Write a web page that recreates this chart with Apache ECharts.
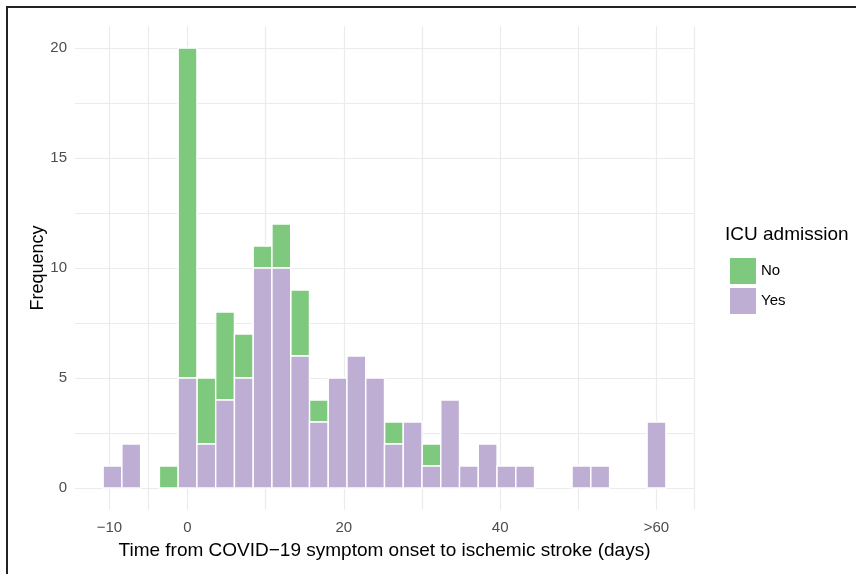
<!DOCTYPE html>
<html>
<head>
<meta charset="utf-8">
<script src="https://cdn.jsdelivr.net/npm/echarts@6/dist/echarts.min.js"></script>
<style>
  html, body { margin: 0; padding: 0; background: #fff; }
  #chart { position: absolute; left: 0; top: 0; width: 856px; height: 574px; }
  #frame { position: absolute; left: 6px; top: 6px; width: 852px; height: 570px;
           border-left: 2px solid #222; border-top: 2px solid #222; pointer-events: none; }
</style>
</head>
<body>
<div id="chart"></div>
<div id="frame"></div>
<script>
// Histogram bins (width 2.4 days), centres of each bin
const binCenters = [-9.6, -7.2, -4.8, -2.4, 0, 2.4, 4.8, 7.2, 9.6, 12.0, 14.4, 16.8, 19.2, 21.6, 24.0,
                    26.4, 28.8, 31.2, 33.6, 36.0, 38.4, 40.8, 43.2, 45.6, 48.0, 50.4, 52.8, 55.2, 57.6, 60.0];
const binWidth = 2.4;
// ICU admission = Yes counts
const yesCounts = [1, 2, 0, 0, 5, 2, 4, 5, 10, 10, 6, 3, 5, 6, 5,
                   2, 3, 1, 4, 1, 2, 1, 1, 0, 0, 1, 1, 0, 0, 3];
// ICU admission = No counts
const noCounts  = [0, 0, 0, 1, 15, 3, 4, 2, 1, 2, 3, 1, 0, 0, 0,
                   1, 0, 1, 0, 0, 0, 0, 0, 0, 0, 0, 0, 0, 0, 0];
const xTickLabels = [-10, 0, 20, 40, 60];
const xGridValues = [-10, -5, 0, 10, 20, 30, 40, 50, 60, 64.8];
const yTickLabels = [0, 5, 10, 15, 20];
const yGridValues = [0, 2.5, 5, 7.5, 10, 12.5, 15, 17.5, 20];
const seriesNames = ['No', 'Yes'];
const colors = { No: '#7FC97F', Yes: '#BEAED4' };

const yesData = [], noData = [];
binCenters.forEach((c, i) => {
  yesData.push([c, 0, yesCounts[i]]);
  noData.push([c, yesCounts[i], yesCounts[i] + noCounts[i]]);
});

function renderBar(params, api) {
  const c = api.value(0), lo = api.value(1), hi = api.value(2);
  if (!(hi > lo)) return null;
  const p0 = api.coord([c - binWidth / 2, hi]);
  const p1 = api.coord([c + binWidth / 2, lo]);
  return {
    type: 'rect',
    shape: { x: p0[0], y: p0[1], width: p1[0] - p0[0], height: p1[1] - p0[1] },
    style: { fill: api.visual('color'), stroke: '#ffffff', lineWidth: 1.4 }
  };
}

const font = '"Liberation Sans", Arial, Helvetica, sans-serif';
const chart = echarts.init(document.getElementById('chart'), null, { renderer: 'canvas' });
chart.setOption({
  animation: false,
  backgroundColor: '#ffffff',
  textStyle: { fontFamily: font },
  title: {
    text: 'ICU admission', left: 720, top: 220,
    textStyle: { fontFamily: font, fontSize: 19, fontWeight: 'normal', color: '#000' }
  },
  legend: {
    data: seriesNames, orient: 'vertical', left: 725, top: 253,
    icon: 'rect', itemWidth: 26, itemHeight: 26, itemGap: 4,
    textStyle: { fontFamily: font, fontSize: 15, color: '#000', padding: [0, 0, 0, 0] }
  },
  grid: { left: 75, right: 162, top: 26, bottom: 64, containLabel: false },
  xAxis: {
    type: 'value', min: -14.4, max: 64.8,
    name: 'Time from COVID\u221219 symptom onset to ischemic stroke (days)',
    nameLocation: 'middle', nameGap: 31, nameMoveOverlap: false,
    nameTextStyle: { fontFamily: font, fontSize: 19, color: '#000' },
    axisLine: { show: false },
    axisTick: { show: false, customValues: xGridValues },
    axisLabel: {
      customValues: xTickLabels, margin: 10, fontSize: 15, color: '#4d4d4d', fontFamily: font,
      formatter: v => v === 60 ? '>60' : (v < 0 ? '\u2212' + Math.abs(v) : String(v))
    },
    splitLine: { show: true, lineStyle: { color: '#ebebeb', width: 1.2 } }
  },
  yAxis: {
    type: 'value', min: -1, max: 21,
    name: 'Frequency', nameLocation: 'middle', nameGap: 28, nameRotate: 90, nameMoveOverlap: false,
    nameTextStyle: { fontFamily: font, fontSize: 18, color: '#000' },
    axisLine: { show: false },
    axisTick: { show: false, customValues: yGridValues },
    axisLabel: { customValues: yTickLabels, margin: 8, fontSize: 15, color: '#4d4d4d', fontFamily: font },
    splitLine: { show: true, lineStyle: { color: '#ebebeb', width: 1.2 } }
  },
  series: [
    { name: 'No', type: 'custom', renderItem: renderBar, data: noData,
      itemStyle: { color: colors.No }, encode: { x: 0, y: [1, 2] } },
    { name: 'Yes', type: 'custom', renderItem: renderBar, data: yesData,
      itemStyle: { color: colors.Yes }, encode: { x: 0, y: [1, 2] } }
  ]
});
</script>
</body>
</html>
